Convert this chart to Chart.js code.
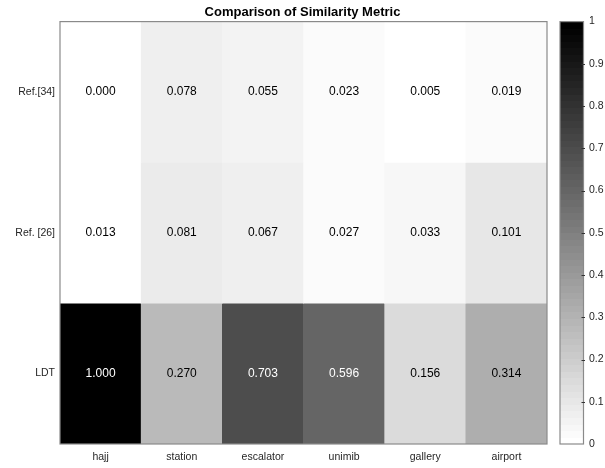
<!DOCTYPE html>
<html>
<head>
<meta charset="utf-8">
<script src="https://cdn.jsdelivr.net/npm/chart.js@4/dist/chart.umd.min.js"></script>
<style>
  html, body { margin: 0; padding: 0; background: #fff; }
  canvas { display: block; }
</style>
</head>
<body>
<canvas id="heat" width="605" height="468"></canvas>
<script>
// Columns (scenes) and rows (methods)
const sceneLabels = ['hajj', 'station', 'escalator', 'unimib', 'gallery', 'airport'];
const methodLabels = ['Ref.[34]', 'Ref. [26]', 'LDT'];

// Similarity metric per method, one value per scene
const ref34Values = [0.000, 0.078, 0.055, 0.023, 0.005, 0.019];
const ref26Values = [0.013, 0.081, 0.067, 0.027, 0.033, 0.101];
const ldtValues   = [1.000, 0.270, 0.703, 0.596, 0.156, 0.314];

// Colorbar tick values
const colorbarTicks = [0, 0.1, 0.2, 0.3, 0.4, 0.5, 0.6, 0.7, 0.8, 0.9, 1];

const rowValues = [ref34Values, ref26Values, ldtValues];

// Inverted 64-step gray colormap (0 -> white, 1 -> black)
const LEVELS = 64;
function levelIndex(v) {
  return Math.max(0, Math.min(LEVELS - 1, Math.floor(v * LEVELS)));
}
function grayFraction(v) {
  return 1 - levelIndex(v) / (LEVELS - 1);
}
function grayColor(v) {
  const g = Math.round(255 * grayFraction(v));
  return `rgb(${g},${g},${g})`;
}

const FONT = "'Liberation Sans', Arial, Helvetica, sans-serif";
const TEXT = '#262626';
const FRAME = '#8a8a8a';
const TICK_SIZE = 10.5;

// Keep the plot box fixed: no extra room for overhanging tick labels
function noOverhang(s) {
  s.paddingTop = 0;
  s.paddingBottom = 0;
  s.paddingLeft = 0;
  s.paddingRight = 0;
}

// One floating-bar dataset per row; rows stack from the bottom (LDT) upward
const datasets = rowValues.map((vals, r) => {
  const lo = methodLabels.length - 1 - r;
  return {
    label: methodLabels[r],
    data: vals.map((v, c) => ({ x: sceneLabels[c], y: [lo, lo + 1], v: v })),
    backgroundColor: vals.map(grayColor),
    borderWidth: 0,
    borderSkipped: false,
    barPercentage: 1,
    categoryPercentage: 1,
    grouped: false
  };
});

const heatmapDecor = {
  id: 'heatmapDecor',
  afterDatasetsDraw(chart) {
    const ctx = chart.ctx;
    const area = chart.chartArea;

    // cell value labels
    ctx.save();
    ctx.font = `12px ${FONT}`;
    ctx.textAlign = 'center';
    ctx.textBaseline = 'middle';
    chart.data.datasets.forEach((ds, di) => {
      const meta = chart.getDatasetMeta(di);
      meta.data.forEach((el, i) => {
        const v = ds.data[i].v;
        ctx.fillStyle = grayFraction(v) < 0.5 ? '#ffffff' : '#000000';
        ctx.fillText(v.toFixed(3), el.x, (el.y + el.base) / 2);
      });
    });
    ctx.restore();

    // plot frame
    ctx.save();
    ctx.strokeStyle = FRAME;
    ctx.lineWidth = 1.2;
    ctx.strokeRect(area.left, area.top, area.right - area.left, area.bottom - area.top);
    ctx.restore();

    // colorbar
    const cb = chart.scales.cb;
    const x0 = area.right + 13;
    const w = 23.5;
    ctx.save();
    for (let k = 0; k < LEVELS; k++) {
      const yTop = cb.getPixelForValue((k + 1) / LEVELS);
      const yBot = cb.getPixelForValue(k / LEVELS);
      ctx.fillStyle = grayColor(k / LEVELS);
      ctx.fillRect(x0, Math.floor(yTop), w, Math.ceil(yBot) - Math.floor(yTop));
    }
    const cTop = cb.getPixelForValue(1);
    const cBot = cb.getPixelForValue(0);
    ctx.strokeStyle = FRAME;
    ctx.lineWidth = 1.2;
    ctx.strokeRect(x0, cTop, w, cBot - cTop);
    ctx.strokeStyle = '#333';
    ctx.lineWidth = 1;
    colorbarTicks.forEach(t => {
      if (t === 0 || t === 1) return;
      const y = Math.round(cb.getPixelForValue(t)) + 0.5;
      ctx.beginPath();
      ctx.moveTo(x0 + w - 2, y);
      ctx.lineTo(x0 + w + 1.5, y);
      ctx.stroke();
    });
    ctx.restore();
  }
};

new Chart(document.getElementById('heat'), {
  type: 'bar',
  data: { labels: sceneLabels, datasets: datasets },
  plugins: [heatmapDecor],
  options: {
    responsive: false,
    devicePixelRatio: 1,
    animation: false,
    layout: { padding: 0 },
    plugins: {
      legend: { display: false },
      tooltip: { enabled: false },
      title: {
        display: true,
        text: 'Comparison of Similarity Metric',
        color: '#000',
        font: { family: FONT, size: 13, weight: 'bold' },
        padding: { top: 5, bottom: 1 }
      }
    },
    scales: {
      x: {
        type: 'category',
        grid: { display: false, drawTicks: false },
        border: { display: false },
        ticks: { color: TEXT, font: { family: FONT, size: TICK_SIZE }, padding: 7, maxRotation: 0 },
        afterFit(s) { s.height = 24; noOverhang(s); }
      },
      y: {
        type: 'linear',
        min: 0,
        max: methodLabels.length,
        grid: { display: false, drawTicks: false },
        border: { display: false },
        afterBuildTicks(s) {
          s.ticks = methodLabels.map((_, i) => ({ value: i + 0.5 }));
        },
        ticks: {
          color: TEXT,
          font: { family: FONT, size: TICK_SIZE },
          padding: 5,
          callback: (val) => methodLabels[methodLabels.length - 1 - Math.floor(val)]
        },
        afterFit(s) { s.width = 60; noOverhang(s); }
      },
      cb: {
        type: 'linear',
        axis: 'y',
        position: 'right',
        min: 0,
        max: 1,
        grid: { display: false, drawTicks: false },
        border: { display: false },
        afterBuildTicks(s) {
          s.ticks = colorbarTicks.map(v => ({ value: v }));
        },
        ticks: {
          color: TEXT,
          font: { family: FONT, size: TICK_SIZE },
          padding: 42,
          callback: (v) => (v === 0 || v === 1) ? String(v) : v.toFixed(1)
        },
        afterFit(s) { s.width = 58; noOverhang(s); }
      }
    }
  }
});
</script>
</body>
</html>
